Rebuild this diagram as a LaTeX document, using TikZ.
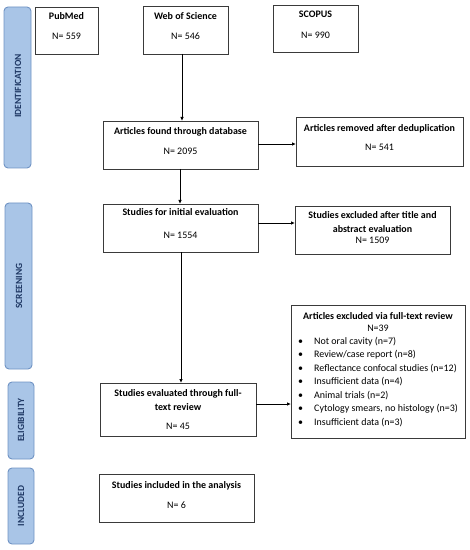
\documentclass[tikz,border=0pt]{standalone}
\usepackage{fontspec}
\setmainfont{Carlito}
\usetikzlibrary{arrows.meta}
\definecolor{barfill}{HTML}{A9C5E7}
\definecolor{barline}{HTML}{7093C4}
\definecolor{bartext}{HTML}{1F3864}
\definecolor{boxline}{HTML}{3A3A3A}
\tikzset{
  bar/.style={draw=barline, fill=barfill, line width=0.9bp, rounded corners=4bp},
  bartxt/.style={rotate=90, text=bartext, font=\fontsize{9.5}{11}\selectfont\bfseries, inner sep=0pt},
  ttl/.style={font=\fontsize{10}{12}\selectfont\bfseries, inner sep=0pt, anchor=base},
  num/.style={font=\fontsize{10}{12}\selectfont, inner sep=0pt, anchor=base},
  itm/.style={font=\fontsize{10}{12}\selectfont, inner sep=0pt, anchor=base west},
  frame/.style={draw=boxline, line width=0.9bp},
  arr/.style={-{Latex[length=4bp,width=3.5bp]}, line width=0.8bp, black},
}
\begin{document}
\begin{tikzpicture}[x=1bp,y=-1bp]
\useasboundingbox (0,0) rectangle (470,550);
% side bars
\draw[bar] (4,7) rectangle (31,168);
\node[bartxt] (lid) at (18,86) {IDENTIFICATION};
\draw[bar] (5,203) rectangle (32,369);
\node[bartxt] (lsc) at (19,286) {SCREENING};
\draw[bar] (8,382) rectangle (34,459);
\node[bartxt] (lel) at (21,420) {ELIGIBILITY};
\draw[bar] (8,468) rectangle (34,544);
\node[bartxt] (lin) at (21,506) {INCLUDED};
% boxes
\draw[frame] (35,7) rectangle (98,54);
\node[ttl] (pubt) at (66.5,20) {PubMed};
\node[num] (pubn) at (66.5,40) {N= 559};
\draw[frame] (143,6) rectangle (228,54);
\coordinate (wosb) at (182,54);
\node[ttl] (wost) at (185.5,20) {Web of Science};
\node[num] (wosn) at (185.5,40) {N= 546};
\draw[frame] (273,5) rectangle (358,52);
\node[ttl] (scot) at (315.5,18) {SCOPUS};
\node[num] (scon) at (315.5,39) {N= 990};
% articles found
\draw[frame] (103,121) rectangle (258,169);
\coordinate (aft) at (182,121);
\coordinate (afr) at (258,144);
\coordinate (afb) at (180,169);
\node[ttl] (aftt) at (180.5,135) {Articles found through database};
\node[num] (aftn) at (180.5,155) {N= 2095};
% removed
\draw[frame] (296,117) rectangle (463,166);
\coordinate (rml) at (296,144);
\node[ttl] (rmt) at (379.5,132) {Articles removed after deduplication};
\node[num] (rmn) at (379.5,151) {N= 541};
% studies initial
\draw[frame] (103,204) rectangle (258,252);
\coordinate (sit) at (180,204);
\coordinate (sir) at (258,223);
\coordinate (sib) at (181,252);
\node[ttl] (sitt) at (180.5,216) {Studies for initial evaluation};
\node[num] (sitn) at (180.5,238) {N= 1554};
% studies excluded
\draw[frame] (295,206) rectangle (450,254);
\coordinate (sel) at (295,223);
\node[ttl] (set1) at (372.5,219) {Studies excluded after title and};
\node[ttl] (set2) at (372.5,232) {abstract evaluation};
\node[num] (setn) at (372.5,243.5) {N= 1509};
% studies evaluated
\draw[frame] (100,383) rectangle (256,436);
\coordinate (sevt) at (181,383);
\coordinate (sevr) at (256,404);
\node[ttl] (sev1) at (178,396) {Studies evaluated through full-};
\node[ttl] (sev2) at (178,410) {text review};
\node[num] (sevn) at (178,429) {N= 45};
% articles excluded full text
\draw[frame] (291,305) rectangle (465,438);
\coordinate (axl) at (291,404);
\node[ttl] (axt) at (378,319) {Articles excluded via full-text review};
\node[num] (axn) at (378,331) {N=39};
\foreach \y/\t [count=\i] in {344/{Not oral cavity (n=7)}, 357.5/{Review/case report (n=8)}, 371/{Reflectance confocal studies (n=12)}, 384.5/{Insufficient data (n=4)}, 398/{Animal trials (n=2)}, 411.5/{Cytology smears, no histology (n=3)}, 425/{Insufficient data (n=3)}} {
  \node[num] (b\i) at (300.5,\y) {\textbullet};
  \node[itm] (t\i) at (314,\y) {\t};
}
% included
\draw[frame] (99,474) rectangle (254,522);
\node[ttl] (inct) at (176.5,488) {Studies included in the analysis};
\node[num] (incn) at (176.5,508) {N= 6};
% arrows
\draw[arr] (wosb) -- (aft);
\draw[arr] (afr) -- (rml);
\draw[arr] (afb) -- (sit);
\draw[arr] (sir) -- (sel);
\draw[arr] (sib) -- (sevt);
\draw[arr] (sevr) -- (axl);
\end{tikzpicture}
\end{document}
